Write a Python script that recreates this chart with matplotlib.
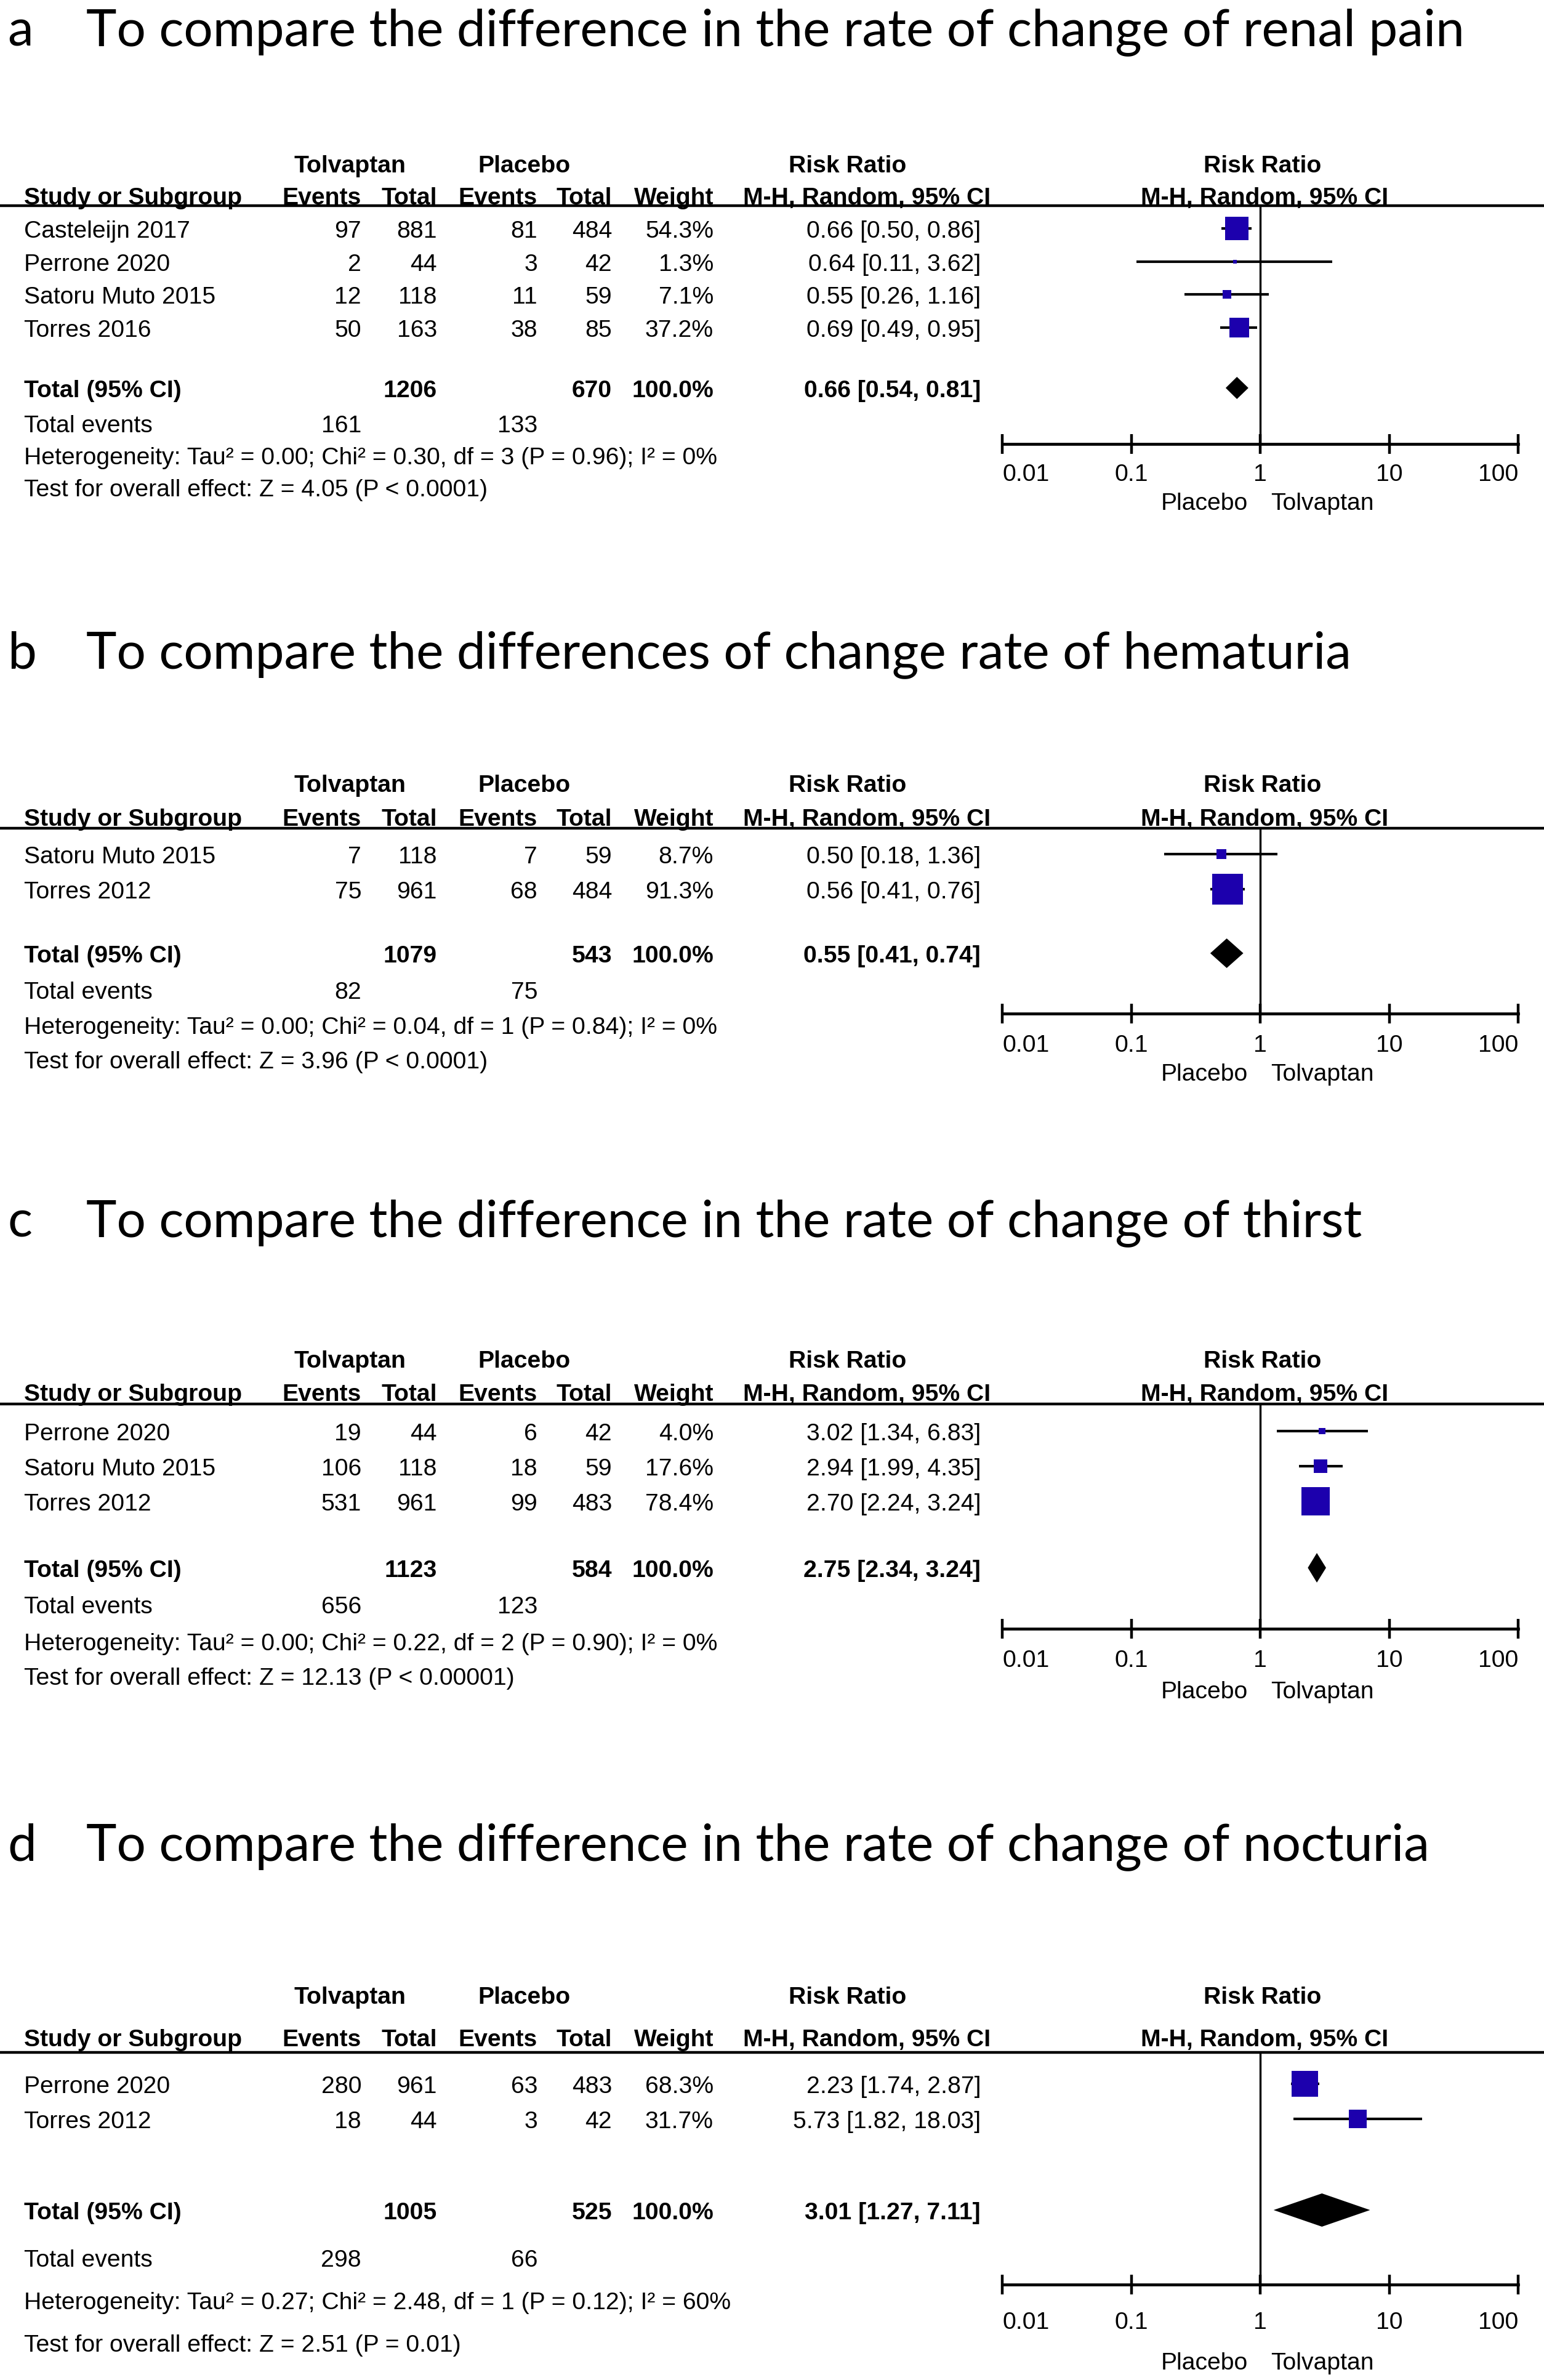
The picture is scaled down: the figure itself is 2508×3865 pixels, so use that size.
import numpy as np
import matplotlib
matplotlib.use('Agg')
import matplotlib.pyplot as plt
from matplotlib import font_manager
from matplotlib.ticker import NullLocator

W, H = 2508, 3866

# ---------------- data ----------------
letters = ['a', 'b', 'c', 'd']
titles = ['To compare the difference in the rate of change of renal pain',
          'To compare the differences of change rate of hematuria',
          'To compare the difference in the rate of change of thirst',
          'To compare the difference in the rate of change of nocturia']

a_study = ['Casteleijn 2017', 'Perrone 2020', 'Satoru Muto 2015', 'Torres 2016']
a_tol_ev = [97, 2, 12, 50]
a_tol_n = [881, 44, 118, 163]
a_pla_ev = [81, 3, 11, 38]
a_pla_n = [484, 42, 59, 85]
a_weight = [54.3, 1.3, 7.1, 37.2]
a_rr = [0.66, 0.64, 0.55, 0.69]
a_lo = [0.50, 0.11, 0.26, 0.49]
a_hi = [0.86, 3.62, 1.16, 0.95]
a_total = [1206, 670, 0.66, 0.54, 0.81]
a_events = [161, 133]
a_het = 'Heterogeneity: Tau² = 0.00; Chi² = 0.30, df = 3 (P = 0.96); I² = 0%'
a_test = 'Test for overall effect: Z = 4.05 (P < 0.0001)'

b_study = ['Satoru Muto 2015', 'Torres 2012']
b_tol_ev = [7, 75]
b_tol_n = [118, 961]
b_pla_ev = [7, 68]
b_pla_n = [59, 484]
b_weight = [8.7, 91.3]
b_rr = [0.50, 0.56]
b_lo = [0.18, 0.41]
b_hi = [1.36, 0.76]
b_total = [1079, 543, 0.55, 0.41, 0.74]
b_events = [82, 75]
b_het = 'Heterogeneity: Tau² = 0.00; Chi² = 0.04, df = 1 (P = 0.84); I² = 0%'
b_test = 'Test for overall effect: Z = 3.96 (P < 0.0001)'

c_study = ['Perrone 2020', 'Satoru Muto 2015', 'Torres 2012']
c_tol_ev = [19, 106, 531]
c_tol_n = [44, 118, 961]
c_pla_ev = [6, 18, 99]
c_pla_n = [42, 59, 483]
c_weight = [4.0, 17.6, 78.4]
c_rr = [3.02, 2.94, 2.70]
c_lo = [1.34, 1.99, 2.24]
c_hi = [6.83, 4.35, 3.24]
c_total = [1123, 584, 2.75, 2.34, 3.24]
c_events = [656, 123]
c_het = 'Heterogeneity: Tau² = 0.00; Chi² = 0.22, df = 2 (P = 0.90); I² = 0%'
c_test = 'Test for overall effect: Z = 12.13 (P < 0.00001)'

d_study = ['Perrone 2020', 'Torres 2012']
d_tol_ev = [280, 18]
d_tol_n = [961, 44]
d_pla_ev = [63, 3]
d_pla_n = [483, 42]
d_weight = [68.3, 31.7]
d_rr = [2.23, 5.73]
d_lo = [1.74, 1.82]
d_hi = [2.87, 18.03]
d_total = [1005, 525, 3.01, 1.27, 7.11]
d_events = [298, 66]
d_het = 'Heterogeneity: Tau² = 0.27; Chi² = 2.48, df = 1 (P = 0.12); I² = 60%'
d_test = 'Test for overall effect: Z = 2.51 (P = 0.01)'

ticks = [0.01, 0.1, 1, 10, 100]
tick_labels = ['0.01', '0.1', '1', '10', '100']

panels = [
    dict(study=a_study, te=a_tol_ev, tn=a_tol_n, pe=a_pla_ev, pn=a_pla_n, w=a_weight,
         rr=a_rr, lo=a_lo, hi=a_hi, tot=a_total, ev=a_events, het=a_het, test=a_test),
    dict(study=b_study, te=b_tol_ev, tn=b_tol_n, pe=b_pla_ev, pn=b_pla_n, w=b_weight,
         rr=b_rr, lo=b_lo, hi=b_hi, tot=b_total, ev=b_events, het=b_het, test=b_test),
    dict(study=c_study, te=c_tol_ev, tn=c_tol_n, pe=c_pla_ev, pn=c_pla_n, w=c_weight,
         rr=c_rr, lo=c_lo, hi=c_hi, tot=c_total, ev=c_events, het=c_het, test=c_test),
    dict(study=d_study, te=d_tol_ev, tn=d_tol_n, pe=d_pla_ev, pn=d_pla_n, w=d_weight,
         rr=d_rr, lo=d_lo, hi=d_hi, tot=d_total, ev=d_events, het=d_het, test=d_test),
]

# ---------------- layout (pixels, y down) ----------------
layout = [
    dict(title=44, h1=266, h2=318, line=335, row0=372, step=53.7, total=631, events=688,
         het=740, test=792, axis=722, tick=767, side=814, dh=18),
    dict(title=1055, h1=1272, h2=1327, line=1346, row0=1388, step=57, total=1549, events=1608,
         het=1665, test=1721, axis=1647, tick=1694, side=1741, dh=24),
    dict(title=1978, h1=2207, h2=2261, line=2281, row0=2325, step=57, total=2547, events=2606,
         het=2666, test=2722, axis=2646, tick=2693, side=2744, dh=24),
    dict(title=2991, h1=3240, h2=3309, line=3334, row0=3385, step=57, total=3590, events=3667,
         het=3736, test=3805, axis=3711, tick=3768, side=3834, dh=27),
]
col_right = [587, 710, 873, 994, 1159]
rr_right = 1593
fx0, fx1 = 1628, 2466
sq_color = '#1c00ad'


def pick(fams):
    for f in fams:
        try:
            font_manager.findfont(font_manager.FontProperties(family=f), fallback_to_default=False)
            return f
        except ValueError:
            pass
    return 'DejaVu Sans'


tfont = pick(['Liberation Sans Narrow', 'Arial Narrow', 'Liberation Sans'])
hfont = pick(['Lato', 'Open Sans'])

fig = plt.figure(figsize=(W / 100, H / 100), dpi=100)
bg = fig.add_axes([0, 0, 1, 1])
bg.set_xlim(0, W)
bg.set_ylim(H, 0)
bg.axis('off')
r = fig.canvas.get_renderer()

# fit the table font so the heterogeneity line has the reference width
t = bg.text(39, 740, a_het, fontfamily=tfont, fontsize=28)
fs = 28 * 1123 / t.get_window_extent(r).width
t.remove()
t = bg.text(140, 44, titles[0], fontfamily=hfont, fontsize=60)
ts = 60 * 2240 / t.get_window_extent(r).width
t.remove()


def txt(x, y, s, ha='right', bold=False):
    bg.text(x, y, s, ha=ha, va='center_baseline', fontfamily=tfont,
            fontsize=fs, fontweight='bold' if bold else 'normal')


for k, (p, L) in enumerate(zip(panels, layout)):
    bg.text(12, L['title'], letters[k], fontfamily=hfont, fontsize=ts, va='center_baseline')
    bg.text(140, L['title'], titles[k], fontfamily=hfont, fontsize=ts, va='center_baseline')

    # headers
    for x, s in [(568, 'Tolvaptan'), (851, 'Placebo'), (1377, 'Risk Ratio'), (2051, 'Risk Ratio')]:
        txt(x, L['h1'], s, ha='center', bold=True)
    txt(39, L['h2'], 'Study or Subgroup', ha='left', bold=True)
    for x, s in zip(col_right, ['Events', 'Total', 'Events', 'Total', 'Weight']):
        txt(x, L['h2'], s, bold=True)
    txt(1408, L['h2'], 'M-H, Random, 95% CI', ha='center', bold=True)
    txt(2054, L['h2'], 'M-H, Random, 95% CI', ha='center', bold=True)
    bg.axhline(L['line'], color='black', lw=3.2)

    # study rows
    ys = [L['row0'] + i * L['step'] for i in range(len(p['study']))]
    for i, y in enumerate(ys):
        txt(39, y, p['study'][i], ha='left')
        vals = [p['te'][i], p['tn'][i], p['pe'][i], p['pn'][i], f"{p['w'][i]:.1f}%"]
        for x, v in zip(col_right, vals):
            txt(x, y, str(v))
        txt(rr_right, y, f"{p['rr'][i]:.2f} [{p['lo'][i]:.2f}, {p['hi'][i]:.2f}]")

    tot = p['tot']
    txt(39, L['total'], 'Total (95% CI)', ha='left', bold=True)
    txt(col_right[1], L['total'], str(tot[0]), bold=True)
    txt(col_right[3], L['total'], str(tot[1]), bold=True)
    txt(col_right[4], L['total'], '100.0%', bold=True)
    txt(rr_right, L['total'], f"{tot[2]:.2f} [{tot[3]:.2f}, {tot[4]:.2f}]", bold=True)
    txt(39, L['events'], 'Total events', ha='left')
    txt(col_right[0], L['events'], str(p['ev'][0]))
    txt(col_right[2], L['events'], str(p['ev'][1]))
    txt(39, L['het'], p['het'], ha='left')
    txt(39, L['test'], p['test'], ha='left')

    # forest plot
    ax = fig.add_axes([fx0 / W, 1 - L['axis'] / H, (fx1 - fx0) / W, (L['axis'] - L['line']) / H])
    ax.set_xscale('log')
    ax.set_xlim(0.01, 100)
    ax.set_ylim(L['axis'], L['line'])
    ax.patch.set_alpha(0)
    for sp in ['top', 'left', 'right']:
        ax.spines[sp].set_visible(False)
    ax.spines['bottom'].set_linewidth(3.4)
    ax.set_xticks(ticks)
    ax.xaxis.set_minor_locator(NullLocator())
    ax.tick_params(axis='x', direction='inout', length=23, width=3.2, labelbottom=False)
    ax.set_yticks([])
    ax.axvline(1, color='black', lw=2.4, zorder=1)

    ax.hlines(ys, p['lo'], p['hi'], color='black', lw=3.0, zorder=2)
    side = [5.2 * np.sqrt(w) * 0.72 for w in p['w']]
    ax.scatter(p['rr'], ys, s=np.array(side) ** 2, marker='s', color=sq_color,
               linewidths=0, zorder=3, clip_on=False)
    yt = L['total']
    ax.fill([tot[3], tot[2], tot[4], tot[2]], [yt, yt - L['dh'], yt, yt + L['dh']],
            color='black', lw=0, zorder=3, clip_on=False)

    for v, s in zip(ticks, tick_labels):
        ha = 'left' if v == ticks[0] else ('right' if v == ticks[-1] else 'center')
        ax.text(v, L['tick'], s, ha=ha, va='center_baseline', fontfamily=tfont,
                fontsize=fs, clip_on=False)
    txt(2027, L['side'], 'Placebo', ha='right')
    txt(2064, L['side'], 'Tolvaptan', ha='left')

fig.savefig('out.png', dpi=100, facecolor='white')
